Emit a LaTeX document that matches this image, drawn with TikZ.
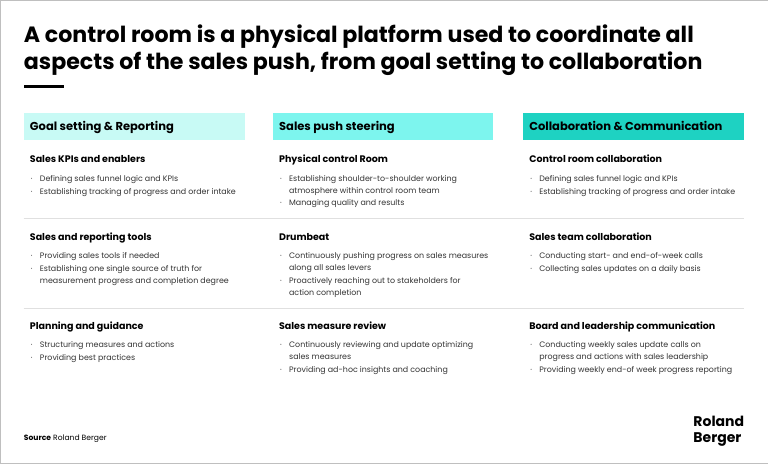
\documentclass[tikz,border=0pt]{standalone}
\usepackage{fontspec}
\setmainfont{Poppins}
\definecolor{hA}{HTML}{C8FAF5}
\definecolor{hB}{HTML}{7DF5EE}
\definecolor{hC}{HTML}{1ED2C2}
\definecolor{txt}{HTML}{333333}
\begin{document}
\begin{tikzpicture}[x=1pt,y=-1pt,
  title/.style={anchor=base west,inner sep=0,font=\fontsize{22.1}{25}\selectfont\bfseries},
  head/.style={anchor=base west,inner sep=0,font=\fontsize{11.5}{14}\selectfont\bfseries},
  sub/.style={anchor=base west,inner sep=0,font=\fontsize{9.5}{12}\selectfont\bfseries},
  bul/.style={anchor=base west,inner sep=0,text=txt,font=\fontsize{7.9}{13}\selectfont},
  dot/.style={anchor=base west,inner sep=0,text=txt,font=\fontsize{7.9}{13}\selectfont},
  sep/.style={draw=black!12,line width=0.8}]
\draw[black!25,fill=white] (0.5,0.5) rectangle (767.5,463.5);
\node[title] (t1) at (24,43) {A control room is a physical platform used to coordinate all};
\node[title] (t2) at (24,70) {aspects of the sales push, from goal setting to collaboration};
\fill (24,85) rectangle (64,88);
\fill[hA] (24,113) rectangle (245,140);
\fill[hB] (273,113) rectangle (493,140);
\fill[hC] (523,113) rectangle (744,140);
\node[head] (h1) at (30,131) {Goal setting \& Reporting};
\node[head] (h2) at (279,131) {Sales push steering};
\node[head] (h3) at (529,131) {Collaboration \& Communication};
\draw[sep] (24,219) -- (744,219);
\draw[sep] (24,308) -- (744,308);
% column 1
\node[sub] at (30,163) {Sales KPIs and enablers};
\node[dot] at (31,182) {·};\node[bul] at (40,182) {Defining sales funnel logic and KPIs};
\node[dot] at (31,195) {·};\node[bul] at (40,195) {Establishing tracking of progress and order intake};
\node[sub] at (30,241) {Sales and reporting tools};
\node[dot] at (31,259) {·};\node[bul] at (40,259) {Providing sales tools if needed};
\node[dot] at (31,272) {·};\node[bul] at (40,272) {Establishing one single source of truth for};
\node[bul] at (40,284) {measurement progress and completion degree};
\node[sub] at (30,330) {Planning and guidance};
\node[dot] at (31,348) {·};\node[bul] at (40,348) {Structuring measures and actions};
\node[dot] at (31,361) {·};\node[bul] at (40,361) {Providing best practices};
% column 2
\node[sub] at (279,163) {Physical control Room};
\node[dot] at (280,182) {·};\node[bul] at (289,182) {Establishing shoulder-to-shoulder working};
\node[bul] at (289,194) {atmosphere within control room team};
\node[dot] at (280,206) {·};\node[bul] at (289,206) {Managing quality and results};
\node[sub] at (279,241) {Drumbeat};
\node[dot] at (280,259) {·};\node[bul] at (289,259) {Continuously pushing progress on sales measures};
\node[bul] at (289,271) {along all sales levers};
\node[dot] at (280,284) {·};\node[bul] at (289,284) {Proactively reaching out to stakeholders for};
\node[bul] at (289,296) {action completion};
\node[sub] at (279,330) {Sales measure review};
\node[dot] at (280,348) {·};\node[bul] at (289,348) {Continuously reviewing and update optimizing};
\node[bul] at (289,360) {sales measures};
\node[dot] at (280,373) {·};\node[bul] at (289,373) {Providing ad-hoc insights and coaching};
% column 3
\node[sub] at (529,163) {Control room collaboration};
\node[dot] at (530,182) {·};\node[bul] at (539,182) {Defining sales funnel logic and KPIs};
\node[dot] at (530,195) {·};\node[bul] at (539,195) {Establishing tracking of progress and order intake};
\node[sub] at (529,241) {Sales team collaboration};
\node[dot] at (530,259) {·};\node[bul] at (539,259) {Conducting start- and end-of-week calls};
\node[dot] at (530,272) {·};\node[bul] at (539,272) {Collecting sales updates on a daily basis};
\node[sub] at (529,330) {Board and leadership communication};
\node[dot] at (530,348) {·};\node[bul] at (539,348) {Conducting weekly sales update calls on};
\node[bul] at (539,360) {progress and actions with sales leadership};
\node[dot] at (530,373) {·};\node[bul] at (539,373) {Providing weekly end-of week progress reporting};
% footer
\node[anchor=base west,inner sep=0,font=\fontsize{7.6}{9}\selectfont] (src) at (24,440) {\textbf{Source} Roland Berger};
\node[anchor=base west,inner sep=0,font=\fontsize{14}{15.5}\selectfont\bfseries] (logo1) at (693,426) {Roland};
\node[anchor=base west,inner sep=0,font=\fontsize{14}{15.5}\selectfont\bfseries] (logo2) at (693,442) {Berger};
\end{tikzpicture}
\end{document}
